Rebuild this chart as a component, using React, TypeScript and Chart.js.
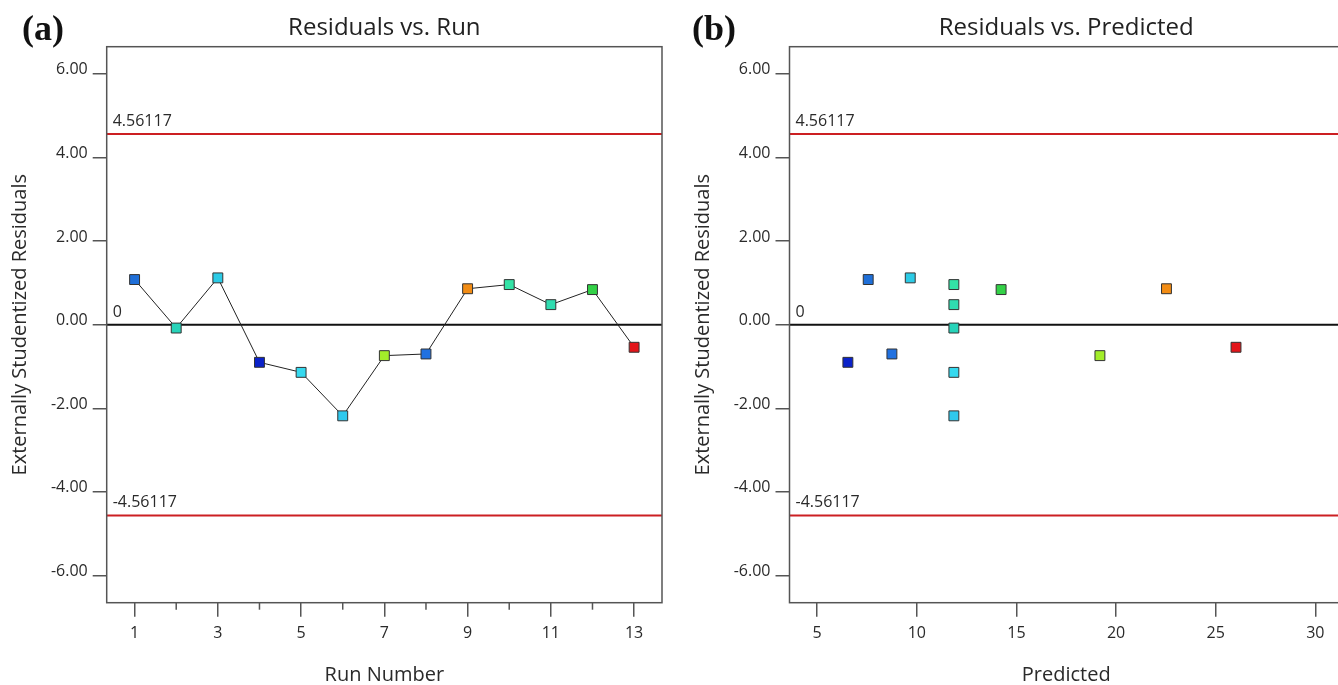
import React, { useEffect, useRef } from "react";
import { Chart, registerables } from "chart.js";

Chart.register(...registerables);

// ---------------- data ----------------
const runNumbers = [1, 2, 3, 4, 5, 6, 7, 8, 9, 10, 11, 12, 13];
const residuals = [1.08, -0.08, 1.12, -0.9, -1.14, -2.18, -0.74, -0.7, 0.86, 0.96, 0.48, 0.84, -0.54];
const predicted = [7.56, 11.86, 9.67, 6.54, 11.86, 11.86, 19.19, 8.75, 22.53, 11.86, 11.86, 14.23, 26.02];
const pointColors = [
  "#1f6fd8", "#27d3b9", "#2ccbe6", "#0b22c9", "#35d9ef", "#2fc9ee", "#a3ee2a",
  "#2171e0", "#f28c14", "#33e3a6", "#30dcb0", "#33d147", "#e3151a",
];
const limitValue = 4.56117;
const limitLabels = ["4.56117", "0", "-4.56117"];
const limitValues = [limitValue, 0, -limitValue];
const yTickValues = [-6, -4, -2, 0, 2, 4, 6];
const runTickValues = [1, 3, 5, 7, 9, 11, 13];
const runMinorTickValues = [2, 4, 6, 8, 10, 12];
const predTickValues = [5, 10, 15, 20, 25, 30];
const yRange = [-6.65, 6.65];
const runRange = [0.33, 13.67];
const predRange = [3.61, 31.39];

const FONT = "'Open Sans', 'Noto Sans', sans-serif";
const TEXT = "#2a2a2a";
const AXIS = "#555";

const decorPlugin = {
  id: "panelDecor",
  afterDatasetsDraw(chart: any, _args: any, opts: any) {
    const { ctx, chartArea: a, scales } = chart;
    const xs = scales.x;
    const ys = scales.y;
    ctx.save();
    // minor ticks
    ctx.strokeStyle = AXIS;
    ctx.lineWidth = 1.5;
    for (const v of opts.minorTicks || []) {
      const px = xs.getPixelForValue(v);
      ctx.beginPath();
      ctx.moveTo(px, a.bottom);
      ctx.lineTo(px, a.bottom + 7);
      ctx.stroke();
    }
    // plot frame
    ctx.strokeRect(a.left, a.top, a.right - a.left, a.bottom - a.top);
    // limit labels
    ctx.fillStyle = TEXT;
    ctx.font = `16px ${FONT}`;
    ctx.textAlign = "left";
    ctx.textBaseline = "middle";
    limitLabels.forEach((t, i) => {
      ctx.fillText(t, a.left + 6, ys.getPixelForValue(limitValues[i]) - 12.5);
    });
    // title
    ctx.fillStyle = "#222";
    ctx.font = `24px ${FONT}`;
    ctx.textAlign = "center";
    ctx.fillText(opts.title, (a.left + a.right) / 2, 28);
    // panel letter
    ctx.fillStyle = "#111";
    ctx.font = `bold 36px 'Liberation Serif', 'DejaVu Serif', serif`;
    ctx.textAlign = "left";
    ctx.fillText(opts.letter, 22, 31);
    ctx.restore();
  },
};

type PanelCfg = {
  letter: string;
  title: string;
  xTitle: string;
  xs: number[];
  xRange: number[];
  xTicks: number[];
  minorTicks: number[];
  showLine: boolean;
  yAxisWidth: number;
  yTitlePad: number;
  rightPad: number;
};

function makeChart(canvas: HTMLCanvasElement, p: PanelCfg) {
  const pts = p.xs.map((x, i) => ({ x, y: residuals[i] }));
  const refSets = limitValues.map((v, i) => ({
    type: "line" as const,
    data: [
      { x: p.xRange[0], y: v },
      { x: p.xRange[1], y: v },
    ],
    borderColor: i === 1 ? "#111" : "#cc1f22",
    borderWidth: 2,
    pointRadius: 0,
    order: 2,
  }));
  return new Chart(canvas, {
    type: "scatter",
    data: {
      datasets: [
        {
          data: pts,
          showLine: p.showLine,
          borderColor: "#222",
          borderWidth: 1,
          pointStyle: "rect",
          pointRadius: 7,
          pointBackgroundColor: pointColors,
          pointBorderColor: "#333",
          pointBorderWidth: 1,
          order: 0,
        } as any,
        ...(refSets as any[]),
      ],
    },
    options: {
      responsive: false,
      animation: false,
      devicePixelRatio: 1,
      layout: { padding: { left: 0, top: 46.7, right: p.rightPad, bottom: 0 } },
      plugins: {
        legend: { display: false },
        tooltip: { enabled: false },
        title: { display: false },
        panelDecor: { title: p.title, letter: p.letter, minorTicks: p.minorTicks },
      } as any,
      scales: {
        x: {
          type: "linear",
          position: "bottom",
          min: p.xRange[0],
          max: p.xRange[1],
          afterBuildTicks: (s: any) => {
            s.ticks = p.xTicks.map((v) => ({ value: v }));
          },
          afterFit: (s: any) => {
            s.height = 82.3;
          },
          grid: {
            display: true,
            drawOnChartArea: false,
            drawTicks: true,
            tickLength: 14,
            color: AXIS,
            lineWidth: 1.5,
          },
          border: { display: false },
          ticks: {
            padding: 7,
            color: TEXT,
            font: { size: 16, family: FONT },
            autoSkip: false,
            maxRotation: 0,
            callback: (v: any) => String(v),
          },
          title: {
            display: true,
            text: p.xTitle,
            color: TEXT,
            font: { size: 20, family: FONT, lineHeight: 1 },
            padding: { top: 0, bottom: 0 },
          },
        },
        y: {
          type: "linear",
          position: "left",
          min: yRange[0],
          max: yRange[1],
          afterBuildTicks: (s: any) => {
            s.ticks = yTickValues.map((v) => ({ value: v }));
          },
          afterFit: (s: any) => {
            s.width = p.yAxisWidth;
          },
          grid: {
            display: true,
            drawOnChartArea: false,
            drawTicks: true,
            tickLength: 14,
            color: AXIS,
            lineWidth: 1.5,
          },
          border: { display: false },
          ticks: {
            padding: 5,
            labelOffset: -4,
            color: TEXT,
            font: { size: 16, family: FONT },
            autoSkip: false,
            callback: (v: any) => Number(v).toFixed(2),
          },
          title: {
            display: true,
            text: "Externally Studentized Residuals",
            color: TEXT,
            font: { size: 20, family: FONT, lineHeight: 1 },
            padding: { top: p.yTitlePad, bottom: 0 },
          },
        },
      },
    } as any,
    plugins: [decorPlugin as any],
  });
}

export default function App() {
  const leftRef = useRef<HTMLCanvasElement | null>(null);
  const rightRef = useRef<HTMLCanvasElement | null>(null);

  useEffect(() => {
    const left = makeChart(leftRef.current!, {
      letter: "(a)",
      title: "Residuals vs. Run",
      xTitle: "Run Number",
      xs: runNumbers,
      xRange: runRange,
      xTicks: runTickValues,
      minorTicks: runMinorTickValues,
      showLine: true,
      yAxisWidth: 106.7,
      yTitlePad: 10,
      rightPad: 670 - 663.3,
    });
    const right = makeChart(rightRef.current!, {
      letter: "(b)",
      title: "Residuals vs. Predicted",
      xTitle: "Predicted",
      xs: predicted,
      xRange: predRange,
      xTicks: predTickValues,
      minorTicks: [],
      showLine: false,
      yAxisWidth: 119.5,
      yTitlePad: 23,
      rightPad: 6,
    });
    return () => {
      left.destroy();
      right.destroy();
    };
  }, []);

  return (
    <div
      style={{
        position: "fixed",
        left: 0,
        top: 0,
        width: 1338,
        height: 685,
        overflow: "hidden",
        background: "#fff",
      }}
    >
      <canvas
        ref={leftRef}
        width={670}
        height={685}
        style={{ position: "absolute", left: 0, top: 0, width: 670, height: 685 }}
      />
      <canvas
        ref={rightRef}
        width={681}
        height={685}
        style={{ position: "absolute", left: 670, top: 0, width: 681, height: 685 }}
      />
    </div>
  );
}
